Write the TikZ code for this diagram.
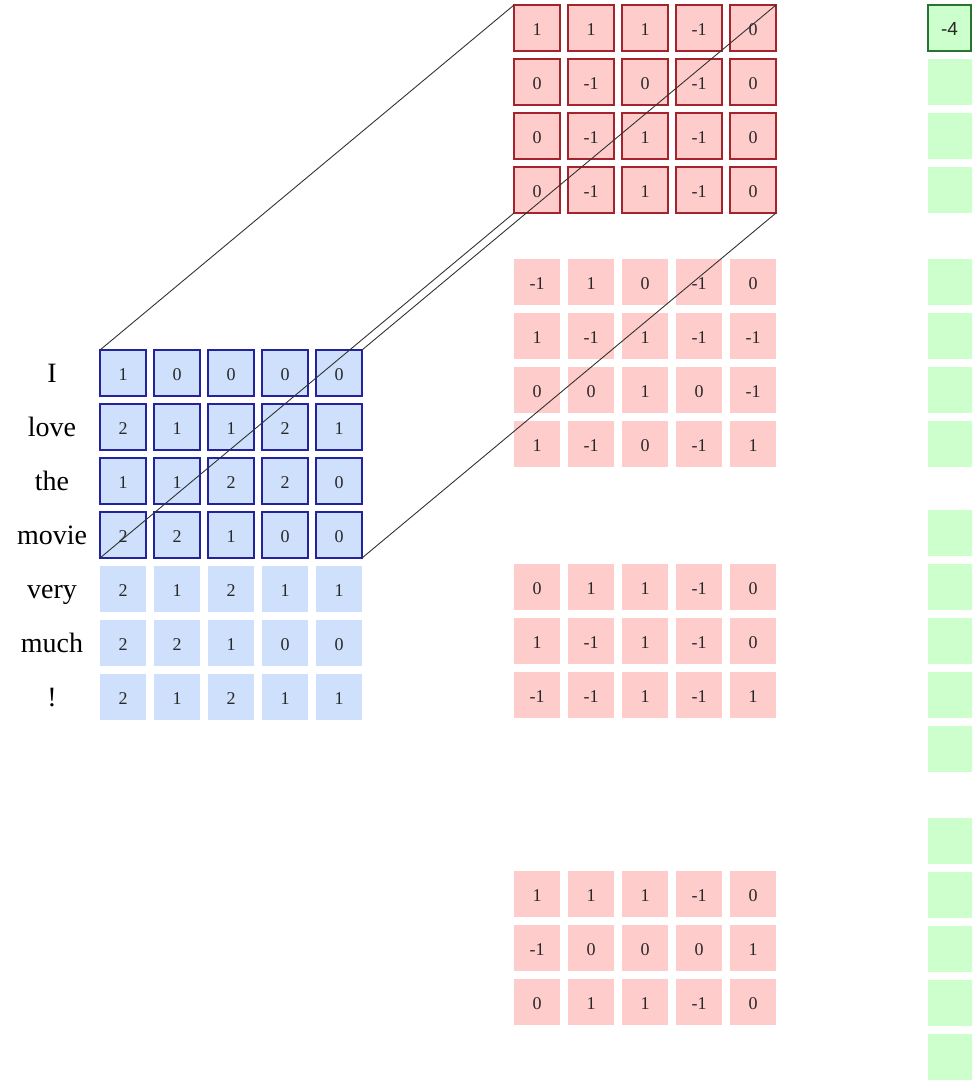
\documentclass[tikz,border=0pt]{standalone}
\usepackage{fontspec}
\setmainfont{Liberation Serif}
\newfontfamily\numsans{Liberation Sans}
\definecolor{bfill}{RGB}{206,224,252}
\definecolor{bline}{RGB}{35,35,160}
\definecolor{rfill}{RGB}{255,204,204}
\definecolor{rline}{RGB}{165,35,45}
\definecolor{gfill}{RGB}{204,255,204}
\definecolor{gline}{RGB}{40,115,50}
\definecolor{txt}{RGB}{40,40,40}
\definecolor{projc}{RGB}{50,50,50}
\tikzset{
  cell/.style={minimum width=46pt,minimum height=46pt,inner sep=0pt,outer sep=0pt,
    text height=14pt,text depth=0pt,text=txt,font=\fontsize{18}{18}\selectfont},
  bcell/.style={cell,fill=bfill},
  bcellb/.style={bcell,draw=bline,line width=1.8pt},
  rcell/.style={cell,fill=rfill},
  rcellb/.style={rcell,draw=rline,line width=1.8pt},
  gcell/.style={cell,fill=gfill},
  gcellb/.style={gcell,draw=gline,line width=1.5pt,font=\numsans\fontsize{19}{19}\selectfont},
  word/.style={anchor=base,inner sep=0pt,text=black,font=\fontsize{28}{28}\selectfont},
  proj/.style={draw=projc,line width=0.9pt}
}
\begin{document}
\begin{tikzpicture}[x=1pt,y=-1pt]
\clip (0,0) rectangle (972,1087);
\fill[white] (0,0) rectangle (972,1087);
% words
\foreach \w [count=\i from 0] in {I,love,the,movie,very,much,!}
  \node[word] (w-\i) at (52,{373+54*\i+9}) {\w};
% blue matrix, bordered rows
\foreach \row [count=\i from 0] in {{1,0,0,0,0},{2,1,1,2,1},{1,1,2,2,0},{2,2,1,0,0}}
  \foreach \v [count=\j from 0] in \row
    \node[bcellb] (b-\i-\j) at ({123+54*\j},{373+54*\i}) {\v};
\foreach \row [count=\i from 4] in {{2,1,2,1,1},{2,2,1,0,0},{2,1,2,1,1}}
  \foreach \v [count=\j from 0] in \row
    \node[bcell] (b-\i-\j) at ({123+54*\j},{373+54*\i}) {\v};
% red filter 1 (bordered)
\foreach \row [count=\i from 0] in {{1,1,1,-1,0},{0,-1,0,-1,0},{0,-1,1,-1,0},{0,-1,1,-1,0}}
  \foreach \v [count=\j from 0] in \row
    \node[rcellb] (ra-\i-\j) at ({537+54*\j},{28+54*\i}) {\v};
% red filter 2
\foreach \row [count=\i from 0] in {{-1,1,0,-1,0},{1,-1,1,-1,-1},{0,0,1,0,-1},{1,-1,0,-1,1}}
  \foreach \v [count=\j from 0] in \row
    \node[rcell] (rb-\i-\j) at ({537+54*\j},{282+54*\i}) {\v};
% red filter 3
\foreach \row [count=\i from 0] in {{0,1,1,-1,0},{1,-1,1,-1,0},{-1,-1,1,-1,1}}
  \foreach \v [count=\j from 0] in \row
    \node[rcell] (rc-\i-\j) at ({537+54*\j},{587+54*\i}) {\v};
% red filter 4
\foreach \row [count=\i from 0] in {{1,1,1,-1,0},{-1,0,0,0,1},{0,1,1,-1,0}}
  \foreach \v [count=\j from 0] in \row
    \node[rcell] (rd-\i-\j) at ({537+54*\j},{894+54*\i}) {\v};
% green outputs
\node[gcellb,minimum width=43pt] (ga-0) at (949.5,28) {-4};
\foreach \i in {1,2,3}
  \node[gcell,minimum width=46pt] (ga-\i) at (951,{28+54*\i}) {};
\foreach \i in {0,1,2,3}
  \node[gcell,minimum width=46pt] (gb-\i) at (951,{282+54*\i}) {};
\foreach \i in {0,...,4}
  \node[gcell,minimum width=46pt] (gc-\i) at (951,{533+54*\i}) {};
\foreach \i in {0,...,4}
  \node[gcell,minimum width=46pt] (gd-\i) at (951,{841+54*\i}) {};
% projection lines
\draw[proj] (b-0-0.north west) -- (ra-0-0.north west);
\draw[proj] (b-0-4.north east) -- (ra-0-4.north east);
\draw[proj] (b-3-0.south west) -- (ra-3-0.south west);
\draw[proj] (b-3-4.south east) -- (ra-3-4.south east);
\end{tikzpicture}
\end{document}
